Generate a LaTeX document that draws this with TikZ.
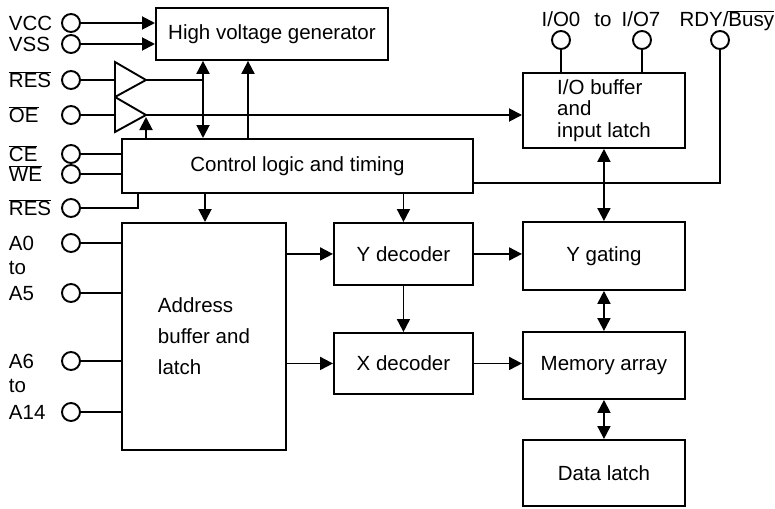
\documentclass[tikz,border=0pt]{standalone}
\usepackage{fontspec}
\setmainfont{Liberation Sans}
\usetikzlibrary{arrows.meta}
\newcommand\ovl[1]{$\overline{\hbox{#1}}$}
\begin{document}
\begin{tikzpicture}[x=1pt,y=-1pt, line width=1.9pt,
  font=\fontsize{20.5}{22}\selectfont,
  blk/.style={draw, rectangle, inner sep=0pt, anchor=north west},
  pin/.style={draw, circle, minimum size=18pt, inner sep=0pt},
  arr/.style={-{Triangle[length=13pt,width=13pt]}},
  darr/.style={{Triangle[length=13pt,width=13pt]}-{Triangle[length=13pt,width=13pt]}},
  lbl/.style={anchor=base west, inner sep=0pt},
  tlbl/.style={anchor=base, inner sep=0pt}]
\useasboundingbox (0,0) rectangle (775,508);

% blocks
\node[blk, minimum width=232pt, minimum height=52pt] (hv) at (155,7) {High voltage generator};
\node[blk, minimum width=351pt, minimum height=54pt] (ctl) at (121,138) {Control logic and timing};
\node[blk, minimum width=164pt, minimum height=227pt, align=left, font=\fontsize{20.5}{31}\selectfont] (addr) at (121,222) {Address\\buffer and\\latch};
\node[blk, minimum width=139pt, minimum height=62pt] (ydec) at (333,222) {Y decoder};
\node[blk, minimum width=139pt, minimum height=61pt] (xdec) at (333,332) {X decoder};
\node[blk, minimum width=162pt, minimum height=75pt, align=left, font=\fontsize{20.5}{21.5}\selectfont] (iob) at (522,72) {I/O buffer\\and\\input latch};
\node[blk, minimum width=162pt, minimum height=68pt] (ygat) at (522,221) {Y gating};
\node[blk, minimum width=162pt, minimum height=67pt] (mem) at (522,331) {Memory array};
\node[blk, minimum width=162pt, minimum height=66pt] (dl) at (522,439) {Data latch};

% left pins
\node[pin] (vcc) at (71,23) {};
\node[pin] (vss) at (71,44) {};
\node[pin] (res1) at (71,80) {};
\node[pin] (oe) at (71,115) {};
\node[pin] (ce) at (71,154) {};
\node[pin] (we) at (71,174) {};
\node[pin] (res2) at (71,208) {};
\node[pin] (a0) at (71,243) {};
\node[pin] (a5) at (71,293) {};
\node[pin] (a6) at (71,361) {};
\node[pin] (a14) at (71,412) {};

\node[lbl] (lvcc) at (8,30.5) {VCC};
\node[lbl] (lvss) at (8,51.5) {VSS};
\node[lbl] (lres1) at (8,87.5) {\ovl{RES}};
\node[lbl] (loe) at (8,122.5) {\ovl{OE}};
\node[lbl] (lce) at (8,161.5) {\ovl{CE}};
\node[lbl] (lwe) at (8,181.5) {\ovl{WE}};
\node[lbl] (lres2) at (8,215.5) {\ovl{RES}};
\node[lbl] (la0) at (8,250.5) {A0};
\node[lbl] (lto1) at (8,274.5) {to};
\node[lbl] (la5) at (8,300.5) {A5};
\node[lbl] (la6) at (8,368.5) {A6};
\node[lbl] (lto2) at (8,392.5) {to};
\node[lbl] (la14) at (8,419.5) {A14};

% top pins
\node[pin] (io0) at (561,40) {};
\node[pin] (io7) at (642,40) {};
\node[pin] (rdy) at (720,40) {};
\node[tlbl] (lio0) at (561,27) {I/O0};
\node[tlbl] (lto3) at (603,27) {to};
\node[tlbl] (lio7) at (641,27) {I/O7};
\node[anchor=base east, inner sep=0pt] (lrdy) at (775,27) {RDY/\ovl{Busy}};

% buffers
\coordinate (t1a) at (115,62);
\coordinate (t1b) at (115,97);
\coordinate (t1c) at (146,80);
\coordinate (t2b) at (115,132);
\coordinate (t2c) at (146,115);
\draw[line join=miter] (t1a) -- (t1b) -- (t1c) -- cycle;
\draw[line join=miter] (t1b) -- (t2b) -- (t2c) -- cycle;
\coordinate (t2arr) at (146,117);

% connectors
\draw[arr] (vcc.east) -- (vcc.east -| hv.west);
\draw[arr] (vss.east) -- (vss.east -| hv.west);
\draw (res1.east) -- (res1.east -| t1a);
\draw (oe.east) -- (oe.east -| t1a);
\draw (ce.east) -- (ce.east -| ctl.west);
\draw (we.east) -- (we.east -| ctl.west);
\coordinate (rb) at (138,208);
\draw (res2.east) -- (rb) -- (rb |- ctl.south);
\draw (a0.east) -- (a0.east -| addr.west);
\draw (a5.east) -- (a5.east -| addr.west);
\draw (a6.east) -- (a6.east -| addr.west);
\draw (a14.east) -- (a14.east -| addr.west);

\coordinate (j1) at (203,80);
\draw (t1c) -- (j1);
\draw[darr] (j1 |- hv.south) -- (j1 |- ctl.north);
\coordinate (j2) at (248,100);
\draw[arr] (j2 |- ctl.north) -- (j2 |- hv.south);
\draw[arr] (t2arr |- ctl.north) -- (t2arr);
\draw[arr] (t2c) -- (t2c -| iob.west);

\coordinate (xa) at (205,200);
\draw[arr] (xa |- ctl.south) -- (xa |- addr.north);
\draw[arr] (ydec.north |- ctl.south) -- (ydec.north);
\draw[arr] (ydec.west -| addr.east) -- (ydec.west);
\draw[arr] (xdec.west -| addr.east) -- (xdec.west);
\draw[arr] (ydec.south) -- (xdec.north);
\draw[arr] (ydec.east) -- (ydec.east -| ygat.west);
\draw[arr] (xdec.east) -- (xdec.east -| mem.west);

\draw (io0.south) -- (io0.south |- iob.north);
\draw (io7.south) -- (io7.south |- iob.north);
\coordinate (rc) at (720,183);
\draw (rdy.south) -- (rc) -- (rc -| ctl.east);

\draw[darr] (iob.south) -- (ygat.north);
\draw[darr] (ygat.south) -- (mem.north);
\draw[darr] (mem.south) -- (dl.north);
\end{tikzpicture}
\end{document}
